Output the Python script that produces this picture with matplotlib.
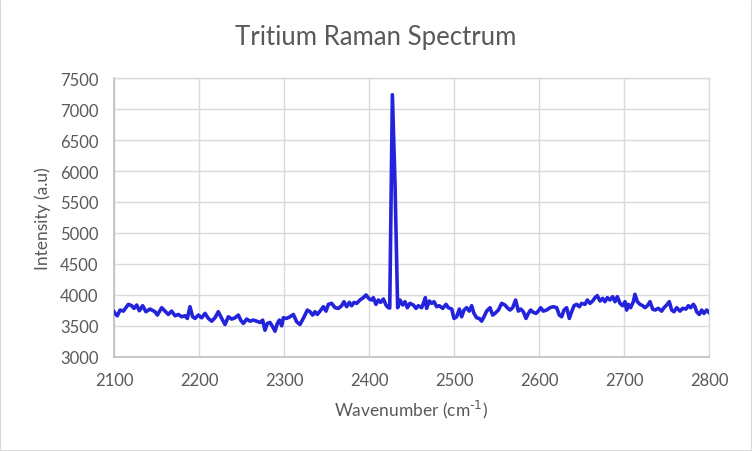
import matplotlib
matplotlib.use("Agg")
import matplotlib.pyplot as plt

plt.rcParams['font.family'] = ['Lato', 'DejaVu Sans']

# wavenumber (cm-1) and intensity
wavenumber = [
    2100.0, 2101.2, 2103.9, 2107.1, 2111.0, 2116.9, 2120.8, 2123.5, 2126.7, 2129.8,
    2133.7, 2137.6, 2142.4, 2148.2, 2151.0, 2156.1, 2160.0, 2163.9, 2167.8, 2171.8,
    2175.7, 2179.6, 2183.5, 2186.3, 2189.4, 2192.5, 2195.3, 2199.2, 2203.1, 2207.1,
    2211.0, 2214.9, 2218.8, 2222.7, 2226.7, 2230.6, 2234.5, 2238.4, 2242.4, 2246.3,
    2249.0, 2252.2, 2256.1, 2260.0, 2263.9, 2267.8, 2271.8, 2274.9, 2277.6, 2280.4,
    2283.5, 2286.7, 2289.4, 2292.2, 2294.5, 2297.3, 2299.2, 2303.1, 2307.1, 2311.0,
    2314.9, 2318.8, 2322.7, 2327.5, 2330.6, 2333.7, 2336.5, 2339.2, 2342.4, 2346.3,
    2349.4, 2352.2, 2356.1, 2360.0, 2363.9, 2367.8, 2370.6, 2373.7, 2376.9, 2379.6,
    2382.4, 2385.5, 2389.4, 2393.3, 2396.5, 2400.4, 2403.1, 2405.1, 2408.2, 2411.0,
    2413.7, 2416.9, 2420.0, 2422.7, 2424.4, 2427.5, 2430.6, 2433.7, 2436.5, 2439.6,
    2442.4, 2445.1, 2448.2, 2452.2, 2455.3, 2458.0, 2462.0, 2464.7, 2466.3, 2467.8,
    2471.0, 2473.7, 2476.5, 2479.6, 2482.7, 2486.7, 2490.6, 2493.3, 2497.3, 2500.0,
    2503.1, 2506.3, 2509.0, 2511.8, 2514.9, 2518.0, 2520.8, 2523.5, 2526.7, 2529.8,
    2532.5, 2535.3, 2538.4, 2542.4, 2545.5, 2548.2, 2552.2, 2556.1, 2560.0, 2562.7,
    2565.9, 2569.0, 2572.5, 2575.7, 2578.4, 2581.6, 2584.7, 2587.5, 2590.2, 2593.3,
    2596.5, 2599.2, 2602.0, 2605.1, 2609.0, 2612.9, 2616.9, 2620.8, 2623.9, 2626.7,
    2629.4, 2632.5, 2635.7, 2638.4, 2641.2, 2644.3, 2647.5, 2650.2, 2654.1, 2656.9,
    2660.0, 2663.1, 2665.9, 2668.6, 2671.8, 2674.9, 2677.6, 2680.4, 2683.5, 2686.7,
    2689.4, 2692.2, 2695.3, 2698.4, 2701.2, 2703.1, 2705.1, 2707.8, 2711.0, 2712.9,
    2715.7, 2718.8, 2722.0, 2724.7, 2727.5, 2730.6, 2733.7, 2736.5, 2740.4, 2744.3,
    2747.1, 2750.2, 2753.3, 2756.1, 2758.8, 2762.0, 2765.9, 2769.0, 2772.9, 2775.7,
    2778.4, 2781.6, 2783.5, 2785.5, 2788.6, 2791.4, 2794.1, 2797.3, 2800.0,
]
intensity = [
    3730, 3703, 3665, 3757, 3740, 3849, 3827, 3784, 3838, 3746,
    3827, 3730, 3773, 3730, 3676, 3795, 3740, 3686, 3740, 3665,
    3686, 3649, 3665, 3622, 3811, 3649, 3622, 3676, 3632, 3703,
    3622, 3578, 3632, 3730, 3622, 3524, 3649, 3611, 3632, 3676,
    3595, 3541, 3611, 3578, 3595, 3578, 3557, 3595, 3432, 3541,
    3557, 3486, 3416, 3541, 3595, 3503, 3632, 3622, 3649, 3686,
    3568, 3524, 3622, 3757, 3730, 3676, 3730, 3686, 3740, 3811,
    3740, 3849, 3865, 3795, 3784, 3827, 3892, 3811, 3881, 3827,
    3881, 3865, 3919, 3957, 4000, 3935, 3919, 3957, 3849, 3919,
    3881, 3935, 3838, 3795, 3790, 7230, 5800, 3795, 3919, 3838,
    3892, 3795, 3865, 3838, 3784, 3827, 3795, 3892, 3957, 3784,
    3903, 3865, 3892, 3811, 3827, 3784, 3849, 3795, 3773, 3622,
    3649, 3773, 3649, 3757, 3795, 3740, 3827, 3703, 3632, 3622,
    3578, 3649, 3740, 3795, 3676, 3703, 3757, 3865, 3838, 3795,
    3757, 3795, 3919, 3740, 3773, 3730, 3622, 3703, 3757, 3719,
    3703, 3740, 3795, 3740, 3757, 3795, 3811, 3795, 3676, 3649,
    3757, 3795, 3622, 3730, 3827, 3849, 3811, 3865, 3849, 3919,
    3865, 3903, 3957, 3989, 3903, 3946, 3892, 3957, 3919, 3973,
    3892, 3973, 3865, 3827, 3892, 3757, 3849, 3795, 3892, 4011,
    3892, 3849, 3827, 3795, 3827, 3892, 3773, 3757, 3784, 3740,
    3795, 3838, 3892, 3757, 3730, 3795, 3740, 3784, 3773, 3827,
    3795, 3849, 3811, 3730, 3686, 3757, 3703, 3757, 3719,
]

x_ticks = [2100, 2200, 2300, 2400, 2500, 2600, 2700, 2800]
y_ticks = [3000, 3500, 4000, 4500, 5000, 5500, 6000, 6500, 7000, 7500]

fig = plt.figure(figsize=(7.52, 4.52), dpi=100)
fig.patches.append(plt.Rectangle((0, 0), 1, 1, transform=fig.transFigure,
                                 fill=False, edgecolor='#D9D9D9', linewidth=1.5))
ax = fig.add_axes([0.1516, 0.208, 0.7912, 0.6172])

ax.plot(wavenumber, intensity, color='#2323DC', linewidth=2.6, solid_joinstyle='round',
        zorder=3)

ax.set_xlim(2100, 2800)
ax.set_ylim(3000, 7500)
ax.set_xticks(x_ticks)
ax.set_yticks(y_ticks)
ax.grid(True, color='#D9D9D9', linewidth=1.0)
ax.set_axisbelow(True)
ax.tick_params(length=0, labelsize=12, colors='#595959', pad=11)

for side in ['top', 'right']:
    ax.spines[side].set_color('#D9D9D9')
    ax.spines[side].set_linewidth(1.0)
for side in ['left', 'bottom']:
    ax.spines[side].set_color('#BFBFBF')
    ax.spines[side].set_linewidth(1.2)

fig.suptitle('Tritium Raman Spectrum', x=0.5, y=1 - 38 / 452, va='center',
             fontsize=18.5, color='#595959')
ax.set_xlabel(r'Wavenumber (cm$^{\text{-1}}$)', fontsize=12.5, color='#595959',
              labelpad=7)
ax.set_ylabel('Intensity (a.u)', fontsize=12.5, color='#595959', labelpad=7)

fig.savefig('out.png', dpi=100)
